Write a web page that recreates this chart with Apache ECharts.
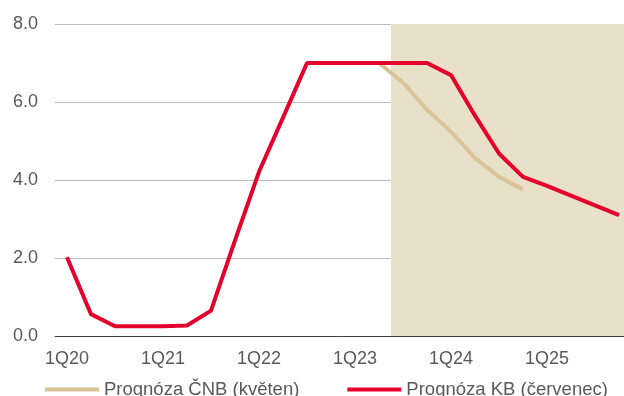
<!DOCTYPE html>
<html>
<head>
<meta charset="utf-8">
<script src="https://cdn.jsdelivr.net/npm/echarts@6/dist/echarts.min.js"></script>
<style>
  html, body { margin: 0; padding: 0; background: #fff; }
  #main { width: 624px; height: 396px; }
</style>
</head>
<body>
<div id="main"></div>
<script>
// kvartaly 1Q20 .. 4Q25
var quarters = [
  '1Q20', '2Q20', '3Q20', '4Q20',
  '1Q21', '2Q21', '3Q21', '4Q21',
  '1Q22', '2Q22', '3Q22', '4Q22',
  '1Q23', '2Q23', '3Q23', '4Q23',
  '1Q24', '2Q24', '3Q24', '4Q24',
  '1Q25', '2Q25', '3Q25', '4Q25'
];

// Prognóza ČNB (květen) - jen od 2Q23
var cnbValues = [
  null, null, null, null,
  null, null, null, null,
  null, null, null, null,
  null, 7.0, 6.5, 5.8,
  5.24, 4.56, 4.08, 3.76,
  null, null, null, null
];

// Prognóza KB (červenec)
var kbValues = [
  2.02, 0.56, 0.25, 0.25,
  0.25, 0.27, 0.65, 2.45,
  4.21, 5.6, 7.0, 7.0,
  7.0, 7.0, 7.0, 7.0,
  6.69, 5.65, 4.68, 4.08,
  3.85, 3.6, 3.35, 3.1
];

var yTicks = [0, 2, 4, 6, 8];

// podbarvená prognóza: od začátku 3Q23 (index 14) do konce osy
var shadeStart = 14;
var shadeEnd = 24;

var myChart = echarts.init(document.getElementById('main'));

var textFont = 'Liberation Sans, Arial, sans-serif';

myChart.setOption({
  animation: false,
  grid: {
    left: 55,
    top: 24,
    width: 576,
    bottom: 60,
    outerBoundsMode: 'none'
  },
  legend: {
    left: 45,
    top: 380,
    padding: 0,
    itemGap: 48,
    itemWidth: 54,
    itemHeight: 4,
    icon: 'rect',
    textStyle: {
      fontFamily: textFont,
      fontSize: 18.5,
      color: '#595959'
    },
    data: ['Prognóza ČNB (květen)', 'Prognóza KB (červenec)']
  },
  xAxis: [
    {
      type: 'category',
      data: quarters,
      boundaryGap: true,
      axisLine: { lineStyle: { color: '#404040', width: 1 } },
      axisTick: { interval: 3, length: 6, lineStyle: { color: '#404040' } },
      axisLabel: {
        interval: 3,
        margin: 14,
        fontFamily: textFont,
        fontSize: 18,
        color: '#595959'
      },
      splitLine: { show: false }
    },
    {
      // pomocná osa pro podbarvení po hranách kvartálů
      type: 'value',
      min: 0,
      max: quarters.length,
      show: false
    }
  ],
  yAxis: {
    type: 'value',
    min: yTicks[0],
    max: yTicks[yTicks.length - 1],
    interval: 2,
    axisLine: { show: false },
    axisTick: { show: false },
    axisLabel: {
      margin: 17,
      fontFamily: textFont,
      fontSize: 18,
      color: '#595959',
      formatter: function (v) { return v.toFixed(1); }
    },
    splitLine: { lineStyle: { color: '#BDBDBD', width: 1 } }
  },
  series: [
    {
      name: 'shade',
      type: 'line',
      xAxisIndex: 1,
      data: [],
      silent: true,
      markArea: {
        silent: true,
        itemStyle: { color: '#E8E0C9' },
        data: [[{ xAxis: shadeStart }, { xAxis: shadeEnd }]]
      },
      z: 1
    },
    {
      name: 'Prognóza ČNB (květen)',
      type: 'line',
      data: cnbValues,
      symbol: 'none',
      z: 2,
      lineStyle: { color: '#D9C499', width: 4 },
      itemStyle: { color: '#D9C499' }
    },
    {
      name: 'Prognóza KB (červenec)',
      type: 'line',
      data: kbValues,
      symbol: 'none',
      z: 3,
      lineStyle: { color: '#E4002B', width: 4 },
      itemStyle: { color: '#E4002B' }
    }
  ]
});
</script>
</body>
</html>
